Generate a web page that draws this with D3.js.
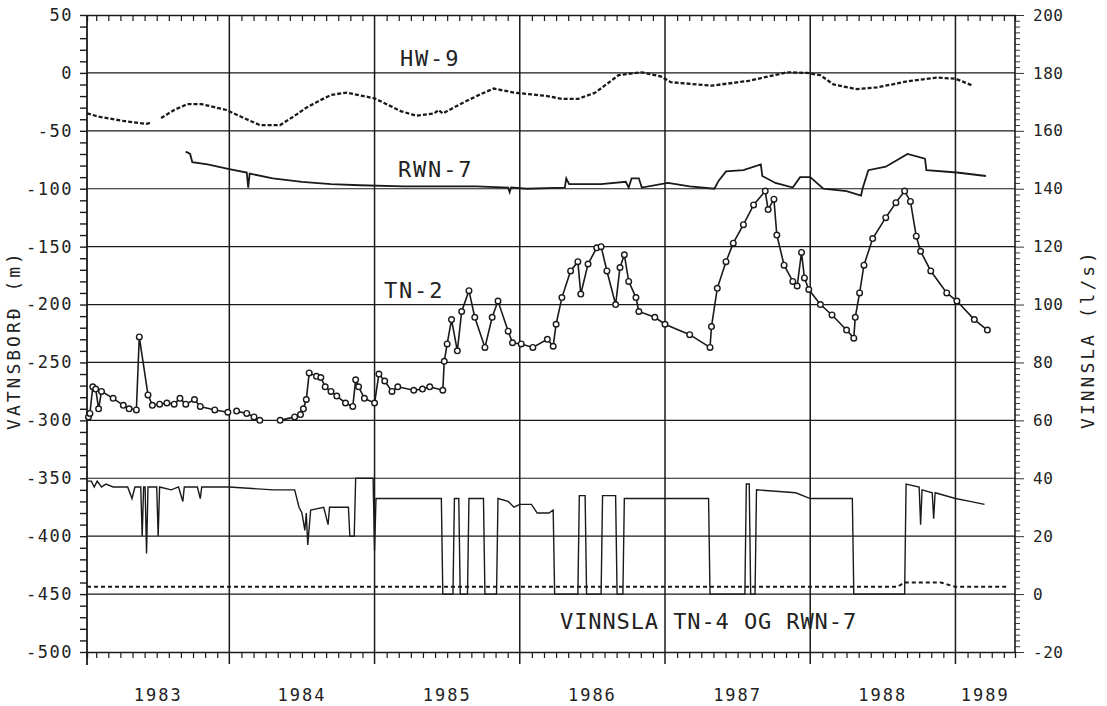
<!DOCTYPE html>
<html><head><meta charset="utf-8">
<script src="https://cdn.jsdelivr.net/npm/d3@7"></script>
<style>
body{margin:0;background:#fff}
svg{display:block}
text{font-family:"DejaVu Sans Mono",monospace;fill:#222}
</style>
</head><body>
<svg id="chart" width="1107" height="706"></svg>
<script>
// ---------------- DATA ----------------
const years = [1983, 1984, 1985, 1986, 1987, 1988, 1989];
const yearLabels = ["1983", "1984", "1985", "1986", "1987", "1988", "1989"];
const leftTicks = [50, 0, -50, -100, -150, -200, -250, -300, -350, -400, -450, -500];
const rightTicks = [200, 180, 160, 140, 120, 100, 80, 60, 40, 20, 0, -20];

// HW-9 water level (m) [year, value]
const hw9 = [[1983.02,-35],[1983.11,-38],[1983.27,-41.5],[1983.43,-44],[1983.46,-43],[1983.49,null],
[1983.53,-39],[1983.62,-32],[1983.71,-27],[1983.81,-27],[1983.98,-32],[1984.1,-39],[1984.21,-45],[1984.35,-45],
[1984.45,-37],[1984.53,-30],[1984.62,-24],[1984.70,-19],[1984.81,-17],[1985.0,-22],[1985.1,-28],[1985.18,-33],
[1985.29,-37],[1985.41,-35],[1985.44,-32],[1985.47,-35],[1985.62,-25],[1985.72,-19],[1985.82,-13.5],[1985.96,-17],
[1986.19,-20],[1986.29,-22.5],[1986.40,-22.5],[1986.52,-17],[1986.68,-2],[1986.84,0.5],[1986.97,-3],
[1987.04,-8],[1987.32,-11],[1987.57,-7],[1987.84,0.5],[1987.98,0],[1988.07,-2],[1988.16,-10],[1988.32,-14],
[1988.46,-12.5],[1988.68,-7],[1988.87,-4],[1989.0,-5],[1989.12,-11]];

// RWN-7 water level (m)
const rwn7 = [[1983.70,-68],[1983.73,-70],[1983.745,-77],[1983.85,-79],[1984.0,-83],[1984.12,-86],[1984.13,-99],
[1984.14,-87],[1984.3,-91],[1984.5,-94],[1984.7,-96],[1984.9,-97],[1985.2,-98],[1985.46,-98],[1985.70,-98],
[1985.92,-99],[1985.93,-103],[1985.94,-99],[1986.05,-100],[1986.31,-99],[1986.32,-91],[1986.34,-96],
[1986.56,-96],[1986.73,-94],[1986.75,-99],[1986.77,-91],[1986.82,-91],[1986.84,-99],[1987.02,-95],
[1987.17,-98],[1987.34,-100],[1987.37,-93],[1987.42,-85],[1987.54,-84],[1987.66,-79],[1987.67,-89],
[1987.76,-95],[1987.88,-99],[1987.93,-90],[1988.0,-90],[1988.09,-100],[1988.25,-102],[1988.35,-106],
[1988.36,-100],[1988.40,-84],[1988.52,-81],[1988.67,-70],[1988.79,-74],[1988.80,-84],[1989.01,-86],[1989.21,-89]];

// TN-2 water level (m)
const tn2 = [[1983.03,-297],[1983.04,-294],[1983.06,-271],[1983.08,-273],[1983.10,-290],[1983.12,-275],
[1983.20,-281],[1983.27,-287],[1983.31,-290],[1983.36,-291],[1983.38,-228],[1983.44,-278],[1983.47,-287],
[1983.52,-286],[1983.57,-285],[1983.62,-286],[1983.66,-281],[1983.70,-286],[1983.76,-282],[1983.80,-288],
[1983.90,-291],[1983.99,-293],[1984.02,null],[1984.05,-292],[1984.12,-294],[1984.17,-297],[1984.21,-300],
[1984.28,null],[1984.35,-300],[1984.45,-297],[1984.49,-295],[1984.51,-290],[1984.53,-282],[1984.55,-259],
[1984.60,-262],[1984.63,-263],[1984.66,-271],[1984.70,-275],[1984.74,-279],[1984.80,-285],[1984.85,-288],
[1984.87,-265],[1984.89,-271],[1984.93,-281],[1985.0,-285],[1985.03,-260],[1985.07,-266],[1985.12,-275],
[1985.16,-271],[1985.27,-274],[1985.33,-273],[1985.38,-271],[1985.47,-274],[1985.48,-249],[1985.50,-234],
[1985.53,-213],[1985.57,-240],[1985.60,-206],[1985.65,-188],[1985.69,-211],[1985.76,-237],[1985.81,-211],
[1985.85,-197],[1985.92,-223],[1985.95,-233],[1986.01,-234],[1986.09,-237],[1986.19,-230],[1986.23,-236],
[1986.25,-217],[1986.29,-194],[1986.35,-171],[1986.40,-163],[1986.42,-191],[1986.47,-165],[1986.53,-151],
[1986.56,-150],[1986.60,-171],[1986.66,-200],[1986.69,-168],[1986.72,-157],[1986.75,-180],[1986.80,-194],
[1986.82,-206],[1986.93,-211],[1987.0,-217],[1987.17,-226],[1987.31,-237],[1987.32,-219],[1987.36,-186],
[1987.42,-163],[1987.47,-147],[1987.54,-131],[1987.61,-114],[1987.69,-102],[1987.71,-118],[1987.75,-109],
[1987.77,-140],[1987.82,-166],[1987.88,-180],[1987.91,-184],[1987.94,-155],[1987.96,-177],[1987.99,-187],
[1988.07,-200],[1988.15,-209],[1988.25,-222],[1988.30,-229],[1988.31,-211],[1988.34,-190],[1988.37,-166],
[1988.43,-143],[1988.52,-125],[1988.59,-112],[1988.65,-102],[1988.69,-111],[1988.73,-141],[1988.76,-154],
[1988.83,-171],[1988.94,-190],[1989.01,-197],[1989.13,-213],[1989.22,-222]];

// Vinnsla (l/s) TN-4
const vinTN4 = [[1983.02,39],[1983.05,39],[1983.07,37],[1983.09,39],[1983.12,37],[1983.15,38],[1983.2,37],
[1983.3,37],[1983.33,33],[1983.35,37],[1983.39,37],[1983.40,20],[1983.41,37],[1983.42,37],[1983.43,14],
[1983.44,37],[1983.50,37],[1983.51,20],[1983.52,37],[1983.6,36],[1983.65,37],[1983.68,32],[1983.69,37],
[1983.78,37],[1983.80,33],[1983.81,37],[1983.9,37],[1984.0,37],[1984.3,36],[1984.45,36],[1984.48,30],
[1984.5,28],[1984.52,22],[1984.53,28],[1984.54,17],[1984.56,29],[1984.65,30],[1984.68,24],[1984.69,30],
[1984.82,30],[1984.83,20],[1984.86,20],[1984.87,40],[1984.99,40],[1985.0,15],[1985.01,33],[1985.46,33],
[1985.47,0],[1985.54,0],[1985.55,33],[1985.58,33],[1985.59,0],[1985.64,0],[1985.65,33],[1985.75,33],
[1985.76,0],[1985.84,0],[1985.85,33],[1985.92,32],[1985.96,30],[1986.0,31],[1986.08,31],[1986.12,28],
[1986.2,28],[1986.23,29],[1986.24,0],[1986.40,0],[1986.41,34],[1986.45,34],[1986.46,0],[1986.56,0],
[1986.57,34],[1986.66,34],[1986.67,0],[1986.71,0],[1986.72,33],[1987.0,33],[1987.3,33],[1987.31,0],
[1987.55,0],[1987.56,38],[1987.58,38],[1987.59,0],[1987.62,0],[1987.63,36],[1987.9,35],[1988.0,33],
[1988.29,33],[1988.30,0],[1988.65,0],[1988.66,38],[1988.75,37],[1988.76,24],[1988.77,36],[1988.84,35],
[1988.85,26],[1988.86,35],[1989.0,33],[1989.1,32],[1989.2,31]];

// Vinnsla (l/s) RWN-7
const vinRWN7 = [[1983.02,2.5],[1983.5,2.5],[1984.0,2.5],[1984.5,2.5],[1985.0,2.5],[1985.5,2.5],[1986.0,2.5],
[1986.5,2.5],[1987.0,2.5],[1987.5,2.5],[1988.0,2.5],[1988.6,2.5],[1988.65,4],[1988.9,4],[1989.0,2.5],[1989.37,2.5]];

// ---------------- CHART ----------------
const svg = d3.select("#chart");
const L = 87, R = 1015, T = 15, B = 652;
const x = d3.scaleLinear().domain([1983.02, 1989.41]).range([L, R]);
const yL = d3.scaleLinear().domain([-500, 50]).range([B, T]);
const yR = d3.scaleLinear().domain([-20, 200]).range([B, T]);
const ink = "#1a1a1a";

// horizontal gridlines
svg.append("g").selectAll("line").data(leftTicks.filter(d => d < 50 && d > -500)).join("line")
  .attr("x1", L).attr("x2", R).attr("y1", d => yL(d)).attr("y2", d => yL(d))
  .attr("stroke", ink).attr("stroke-width", 1.2);

// year lines
svg.append("g").selectAll("line").data(years.slice(1)).join("line")
  .attr("x1", d => x(d)).attr("x2", d => x(d)).attr("y1", T).attr("y2", B + 12)
  .attr("stroke", ink).attr("stroke-width", 1.5);

// month ticks
const months = [];
years.forEach(yv => { for (let m = 1; m < 12; m++) { const t = yv + m / 12; if (t > 1983.03 && t < 1989.40) months.push(t); } });
const topAxis = svg.append("g").attr("transform", `translate(0,${T})`)
  .call(d3.axisBottom(x).tickValues(months).tickSize(6).tickFormat(""));
const botAxis = svg.append("g").attr("transform", `translate(0,${B})`)
  .call(d3.axisBottom(x).tickValues(months).tickSize(6).tickFormat(""));
[topAxis, botAxis].forEach(g => {
  g.select(".domain").attr("stroke", ink).attr("stroke-width", 1.3);
  g.selectAll(".tick line").attr("stroke", ink).attr("stroke-width", 1.2);
});

// left axis
const leftMinor = d3.range(-500, 51, 10);
const lAx = svg.append("g").attr("transform", `translate(${L},0)`)
  .call(d3.axisLeft(yL).tickValues(leftMinor).tickSize(7).tickPadding(7)
    .tickFormat(d => leftTicks.includes(d) ? String(d) : ""));
lAx.select(".domain").remove();
lAx.selectAll(".tick line").attr("stroke", ink).attr("stroke-width", 1.4);
lAx.selectAll(".tick text").attr("font-size", 17).attr("font-family", "DejaVu Sans Mono").attr("fill", "#2a2a2a")
  .style("letter-spacing", "1.5px");
svg.append("line").attr("x1", L).attr("x2", L).attr("y1", T).attr("y2", B + 13)
  .attr("stroke", ink).attr("stroke-width", 1.8);

// right axis
const rightMinor = d3.range(-20, 201, 2);
const rAx = svg.append("g").attr("transform", `translate(${R},0)`)
  .call(d3.axisRight(yR).tickValues(rightMinor).tickSize(5).tickPadding(13)
    .tickFormat(d => rightTicks.includes(d) ? String(d) : ""));
rAx.select(".domain").remove();
rAx.selectAll(".tick line").attr("stroke", "#333").attr("stroke-width", 1)
  .attr("x2", d => rightTicks.includes(d) ? 9 : 5);
rAx.selectAll(".tick text").attr("font-size", 16).attr("font-family", "DejaVu Sans Mono").attr("fill", "#2a2a2a")
  .style("letter-spacing", "0.5px");
svg.append("line").attr("x1", R).attr("x2", R).attr("y1", T).attr("y2", B + 1)
  .attr("stroke", ink).attr("stroke-width", 1.6);

// year labels
svg.append("g").selectAll("text").data(years).join("text")
  .attr("x", d => (x(Math.max(d, 1983.02)) + x(Math.min(d + 1, 1989.41))) / 2)
  .attr("y", 701).attr("text-anchor", "middle").attr("font-size", 17).style("letter-spacing", "2px")
  .text((d, i) => yearLabels[i]);

// axis titles
svg.append("text").attr("transform", "translate(20,340) rotate(-90)").attr("text-anchor", "middle")
  .attr("font-size", 18).attr("fill", "#555").style("letter-spacing", "3px").text("VATNSBORÐ (m)");
svg.append("text").attr("transform", "translate(1094,339) rotate(-90)").attr("text-anchor", "middle")
  .attr("font-size", 18).attr("fill", "#555").style("letter-spacing", "3px").text("VINNSLA (l/s)");

// series
const lineL = d3.line().defined(d => d[1] != null).x(d => x(d[0])).y(d => yL(d[1]));
const lineR = d3.line().defined(d => d[1] != null).x(d => x(d[0])).y(d => yR(d[1]));

svg.append("path").datum(hw9).attr("d", lineL).attr("fill", "none").attr("stroke", ink)
  .attr("stroke-width", 2.3).attr("stroke-dasharray", "4 2");
svg.append("path").datum(rwn7).attr("d", lineL).attr("fill", "none").attr("stroke", ink)
  .attr("stroke-width", 1.8);
svg.append("path").datum(tn2).attr("d", lineL).attr("fill", "none").attr("stroke", ink)
  .attr("stroke-width", 1.6);
svg.append("g").selectAll("circle").data(tn2.filter(d => d[1] != null)).join("circle")
  .attr("cx", d => x(d[0])).attr("cy", d => yL(d[1])).attr("r", 2.8)
  .attr("fill", "#fff").attr("stroke", ink).attr("stroke-width", 1.4);
svg.append("path").datum(vinTN4).attr("d", lineR).attr("fill", "none").attr("stroke", ink)
  .attr("stroke-width", 1.4);
svg.append("path").datum(vinRWN7).attr("d", lineR).attr("fill", "none").attr("stroke", ink)
  .attr("stroke-width", 2).attr("stroke-dasharray", "4 3");

// series labels
const lab = (t, xx, yy, ls) => svg.append("text").attr("x", xx).attr("y", yy).attr("font-size", 22)
  .style("letter-spacing", ls + "px").attr("fill", "#222").text(t);
lab("HW-9", 400, 66, 1.8);
lab("RWN-7", 398, 177, 1.8);
lab("TN-2", 384, 298, 1.8);
lab("VINNSLA TN-4 OG RWN-7", 560, 629, 0.9);
</script>
</body></html>
